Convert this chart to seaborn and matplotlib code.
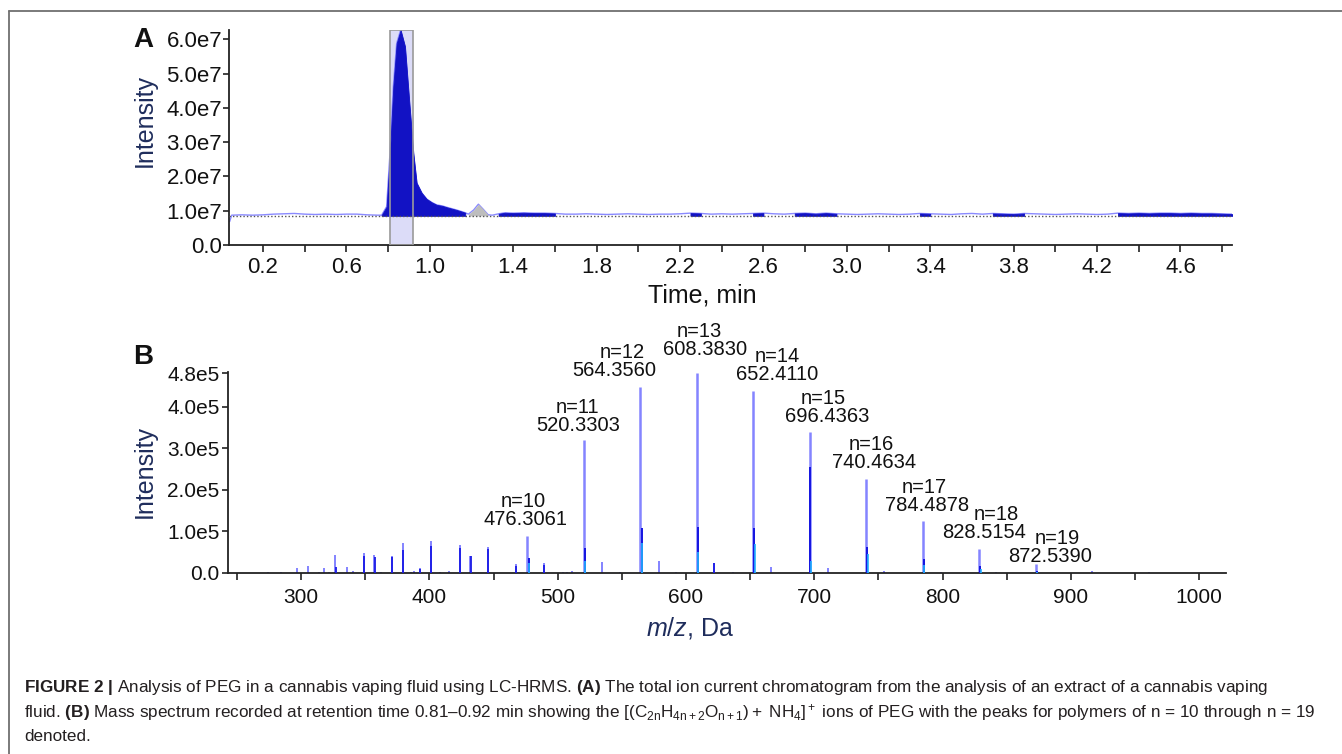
import numpy as np
import pandas as pd
import matplotlib
matplotlib.use("Agg")
import matplotlib.pyplot as plt
import seaborn as sns
from matplotlib import font_manager as fm
from matplotlib.lines import Line2D
from matplotlib.ticker import FixedLocator, MultipleLocator

# ---------------- panel A : total ion current chromatogram ----------------
time_min = [0.040, 0.050, 0.10, 0.15, 0.20, 0.25, 0.30, 0.35, 0.40, 0.45, 0.50,
            0.55, 0.60, 0.65, 0.70, 0.75, 0.769, 0.793, 0.809, 0.825, 0.841,
            0.860, 0.881, 0.902, 0.921, 0.937, 0.961, 0.985, 1.010, 1.033,
            1.060, 1.081, 1.105, 1.129, 1.150, 1.170, 1.185, 1.210, 1.233,
            1.255, 1.280, 1.300, 1.330, 1.360, 1.400, 1.450, 1.500, 1.550,
            1.600, 1.650,
            1.70, 1.75, 1.80, 1.85, 1.90, 1.95, 2.00, 2.05, 2.10, 2.15, 2.20,
            2.25, 2.30, 2.35, 2.40, 2.45, 2.50, 2.55, 2.60, 2.65, 2.70, 2.75,
            2.80, 2.85, 2.90, 2.95, 3.00, 3.05, 3.10, 3.15, 3.20, 3.25, 3.30,
            3.35, 3.40, 3.45, 3.50, 3.55, 3.60, 3.65, 3.70, 3.75, 3.80, 3.85,
            3.90, 3.95, 4.00, 4.05, 4.10, 4.15, 4.20, 4.25, 4.30, 4.35, 4.40,
            4.45, 4.50, 4.55, 4.60, 4.65, 4.70, 4.75, 4.80, 4.85]
# intensity in units of 1e7
tic_1e7 = [0.68, 0.87, 0.88, 0.87, 0.88, 0.90, 0.91, 0.92, 0.90, 0.89, 0.90,
           0.89, 0.90, 0.90, 0.88, 0.87, 0.87, 1.12, 2.68, 4.62, 5.88,
           6.27, 5.79, 4.14, 2.68, 1.81, 1.52, 1.34, 1.24, 1.17,
           1.14, 1.10, 1.06, 1.02, 0.98, 0.94, 0.90, 1.02, 1.19,
           1.05, 0.88, 0.87, 0.91, 0.94, 0.93, 0.94, 0.93, 0.93,
           0.92, 0.90,
           0.90, 0.91, 0.90, 0.89, 0.90, 0.91, 0.90, 0.89, 0.90, 0.90, 0.91,
           0.93, 0.92, 0.90, 0.91, 0.90, 0.91, 0.92, 0.93, 0.91, 0.90, 0.92,
           0.93, 0.91, 0.93, 0.91, 0.90, 0.89, 0.90, 0.91, 0.90, 0.89, 0.90,
           0.92, 0.91, 0.90, 0.89, 0.91, 0.92, 0.90, 0.92, 0.91, 0.90, 0.92,
           0.91, 0.90, 0.89, 0.90, 0.91, 0.90, 0.89, 0.90, 0.93, 0.92, 0.93,
           0.92, 0.93, 0.93, 0.92, 0.93, 0.92, 0.92, 0.91, 0.90]
baseline_1e7 = 0.85
rt_window = (0.81, 0.92)
dark_fill = [(0.76, 1.175), (1.33, 1.62), (2.24, 2.31), (2.54, 2.61),
             (2.74, 2.95), (3.34, 3.41), (3.69, 3.86), (4.28, 4.85)]
grey_fill = [(1.175, 1.29)]
a_xticks = [0.2, 0.6, 1.0, 1.4, 1.8, 2.2, 2.6, 3.0, 3.4, 3.8, 4.2, 4.6]
a_yticks = [0, 1e7, 2e7, 3e7, 4e7, 5e7, 6e7]
a_ylabels = ["0.0", "1.0e7", "2.0e7", "3.0e7", "4.0e7", "5.0e7", "6.0e7"]

# ---------------- panel B : mass spectrum ----------------
peg_n = [10, 11, 12, 13, 14, 15, 16, 17, 18, 19]
peg_mz = [476.3061, 520.3303, 564.3560, 608.3830, 652.4110,
          696.4363, 740.4634, 784.4878, 828.5154, 872.5390]
peg_int = [0.88e5, 3.19e5, 4.46e5, 4.80e5, 4.37e5,
           3.40e5, 2.26e5, 1.24e5, 0.58e5, 0.21e5]
iso_mz = [477.31, 521.33, 565.36, 609.39, 653.41, 696.80, 741.47, 785.49, 829.52, 873.54]
iso_int = [0.35e5, 0.60e5, 1.08e5, 1.10e5, 1.08e5, 2.55e5, 0.62e5, 0.34e5, 0.18e5, 0.05e5]
cyan_mz = [477.6, 521.6, 565.6, 609.6, 653.6, 697.6, 741.7, 785.7, 829.7, 873.7]
cyan_int = [0.25e5, 0.30e5, 0.72e5, 0.50e5, 0.70e5, 0.30e5, 0.45e5, 0.20e5, 0.10e5, 0.03e5]
minor_mz = [274.2, 284.0, 296.6, 305.2, 313.8, 318.2, 322.0, 326.7, 335.6, 340.3,
            349.1, 357.1, 362.0, 370.9, 379.5, 386.0, 388.3, 392.5, 401.0, 408.0,
            415.4, 423.7, 432.0, 437.0, 445.7, 455.0, 460.0, 467.6, 489.4, 504.0,
            507.0, 511.5, 534.3, 548.3, 556.0, 578.8, 592.4, 622.0, 636.4, 666.3,
            680.4, 710.6, 724.0, 754.4, 798.8, 842.0, 916.6, 960.6]
minor_int = [0.02e5, 0.015e5, 0.13e5, 0.17e5, 0.03e5, 0.13e5, 0.02e5, 0.43e5, 0.14e5, 0.06e5,
             0.47e5, 0.43e5, 0.02e5, 0.42e5, 0.71e5, 0.03e5, 0.06e5, 0.13e5, 0.78e5, 0.02e5,
             0.04e5, 0.67e5, 0.41e5, 0.01e5, 0.62e5, 0.01e5, 0.01e5, 0.22e5, 0.23e5, 0.02e5,
             0.02e5, 0.06e5, 0.26e5, 0.03e5, 0.01e5, 0.29e5, 0.02e5, 0.25e5, 0.02e5, 0.15e5,
             0.01e5, 0.11e5, 0.01e5, 0.05e5, 0.03e5, 0.02e5, 0.06e5, 0.03e5]
minor_dark_mz = [326.9, 349.3, 357.3, 371.1, 379.8, 392.7, 401.3, 423.9, 432.3, 446.0, 467.8, 489.7, 622.2]
minor_dark_int = [0.15e5, 0.40e5, 0.38e5, 0.38e5, 0.55e5, 0.10e5, 0.65e5, 0.60e5, 0.41e5, 0.58e5, 0.18e5, 0.20e5, 0.25e5]
b_xticks = [300, 400, 500, 600, 700, 800, 900, 1000]
b_yticks = [0, 1e5, 2e5, 3e5, 4e5, 4.8e5]
b_ylabels = ["0.0", "1.0e5", "2.0e5", "3.0e5", "4.0e5", "4.8e5"]
# label nudges (pixels) so the tags sit as in the original figure
num_dx = [-2, -6, -26, 8, 24, 18, 8, 4, 5, 15]
num_dy = [16.5, 15, 17, 24, 17, 15, 16, 16, 16.5, 8]
n_dx = [-4, -6, -18, 3, 24, 14, 5, 2, 17, 22]
line_gap = 18

caption = [
    r"$\mathbf{FIGURE\ 2\ |}$ Analysis of PEG in a cannabis vaping fluid using LC-HRMS. "
    r"$\mathbf{(A)}$ The total ion current chromatogram from the analysis of an extract of a cannabis vaping",
    r"fluid. $\mathbf{(B)}$ Mass spectrum recorded at retention time 0.81–0.92 min showing the "
    r"$\mathregular{[(C_{2n}H_{4n+2}O_{n+1})+\ NH_4]^+}$ ions of PEG with the peaks for polymers of n = 10 through n = 19",
    "denoted.",
]

# ---------------- style ----------------
sns.set_theme(style="ticks")
installed = {f.name for f in fm.fontManager.ttflist}
main_font = "Liberation Sans" if "Liberation Sans" in installed else "DejaVu Sans"
cap_font = "Liberation Sans Narrow" if "Liberation Sans Narrow" in installed else main_font
plt.rcParams["font.family"] = [main_font, "DejaVu Sans"]
plt.rcParams["mathtext.fontset"] = "custom"
plt.rcParams["mathtext.rm"] = cap_font
plt.rcParams["mathtext.bf"] = cap_font + ":bold"
plt.rcParams["mathtext.it"] = main_font + ":italic"
plt.rcParams["axes.edgecolor"] = "#222222"
plt.rcParams["axes.linewidth"] = 1.3

W, H = 1342, 754
fig = plt.figure(figsize=(W / 100, H / 100), dpi=100)
fig.patch.set_facecolor("white")
axA = fig.add_axes([229 / W, 1 - 245 / H, (1232 - 229) / W, (245 - 30) / H])
axB = fig.add_axes([228 / W, 1 - 573 / H, (1226 - 228) / W, (573 - 372) / H])

label_col = "#1f2d5c"

# ---- A
t = np.array(time_min)
sig = np.array(tic_1e7) * 1e7
base = baseline_1e7 * 1e7
dfA = pd.DataFrame({"time": t, "intensity": sig})

axA.axvspan(*rt_window, facecolor="#dcdcf8", edgecolor="none", zorder=0)
sns.lineplot(data=dfA, x="time", y="intensity", ax=axA, color="#8a8aff",
             lw=1.0, zorder=2)
for a, b in dark_fill:
    m = (t >= a) & (t <= b)
    axA.fill_between(t[m], base, sig[m], color="#1212c4", lw=0.6,
                     edgecolor="#1212c4", zorder=3)
for a, b in grey_fill:
    m = (t >= a) & (t <= b)
    axA.fill_between(t[m], base, sig[m], color="#bdbdbd", lw=0, zorder=3)
axA.axhline(base, color="#555555", ls=(0, (1, 1.5)), lw=1.0, zorder=4)
axA.axvspan(*rt_window, facecolor="none", edgecolor="#9a9a9a", lw=1.2, zorder=5)

axA.set_xlim(0.037, 4.847)
axA.set_ylim(0, 6.27e7)
axA.xaxis.set_major_locator(FixedLocator(a_xticks))
axA.xaxis.set_minor_locator(MultipleLocator(0.2))
axA.set_yticks(a_yticks)
axA.set_yticklabels(a_ylabels)
axA.tick_params(axis="x", which="both", length=5, width=1.2, color="#222222",
                labelsize=16, pad=4, labelcolor="#111111")
axA.tick_params(axis="y", length=4, width=1.2, color="#222222",
                labelsize=16, pad=1, labelcolor="#111111")
axA.set_xlabel("Time, min", fontsize=18, color="#111111")
axA.xaxis.label.set_va("center")
axA.xaxis.set_label_coords(0.4716, -0.2326)
axA.set_ylabel("Intensity", fontsize=18, color=label_col)
axA.yaxis.label.set_va("center")
axA.yaxis.set_label_coords(-0.0837, 0.58)
sns.despine(ax=axA)

# ---- B
axB.vlines(minor_mz, 0, minor_int, color="#7a7aff", lw=1.3, zorder=2)
axB.vlines(minor_dark_mz, 0, minor_dark_int, color="#1a1ae6", lw=1.3, zorder=3)
axB.vlines(peg_mz, 0, peg_int, color="#8484ff", lw=1.8, zorder=2)
axB.vlines(iso_mz, 0, iso_int, color="#1414e0", lw=1.4, zorder=3)
axB.vlines(cyan_mz, 0, cyan_int, color="#22b2ff", lw=1.2, zorder=4)

for n, mz, h, ndx, mdx, mdy in zip(peg_n, peg_mz, peg_int, n_dx, num_dx, num_dy):
    axB.annotate(f"{mz:.4f}", xy=(mz, h), xytext=(mdx, mdy),
                 textcoords="offset pixels", ha="center", va="center",
                 fontsize=14.5, color="#111111", annotation_clip=False)
    axB.annotate(f"n={n}", xy=(mz, h), xytext=(ndx, mdy + line_gap),
                 textcoords="offset pixels", ha="center", va="center",
                 fontsize=14.5, color="#111111", annotation_clip=False)

axB.set_xlim(243, 1021)
axB.set_ylim(0, 4.83e5)
axB.xaxis.set_major_locator(FixedLocator(b_xticks))
axB.xaxis.set_minor_locator(MultipleLocator(50))
axB.set_yticks(b_yticks)
axB.set_yticklabels(b_ylabels)
axB.tick_params(axis="x", which="both", length=5, width=1.2, color="#222222",
                labelsize=15, pad=6, labelcolor="#111111")
axB.tick_params(axis="y", length=4, width=1.2, color="#222222",
                labelsize=15, pad=2, labelcolor="#111111")
axB.set_xlabel(r"$\mathit{m/z}$, Da", fontsize=18, color=label_col)
axB.xaxis.label.set_va("center")
axB.xaxis.set_label_coords(0.463, -0.2736)
axB.set_ylabel("Intensity", fontsize=18, color=label_col)
axB.yaxis.label.set_va("center")
axB.yaxis.set_label_coords(-0.0832, 0.504)
sns.despine(ax=axB)

# panel letters
fig.text(143 / W, 1 - 40 / H, "A", fontsize=20, fontweight="bold",
         ha="center", va="center", color="#111111")
fig.text(143 / W, 1 - 357 / H, "B", fontsize=20, fontweight="bold",
         ha="center", va="center", color="#111111")

# frame of the figure box
fig.add_artist(Line2D([9 / W, 1], [1 - 11 / H, 1 - 11 / H], transform=fig.transFigure,
                      color="#707070", lw=1.3))
fig.add_artist(Line2D([9 / W, 9 / W], [0, 1 - 11 / H], transform=fig.transFigure,
                      color="#707070", lw=1.3))

# caption, sized to the original line width
cap_y = [692, 717, 741]
caps = [fig.text(24 / W, 1 - y / H, s, fontsize=12, family=cap_font,
                 color="#231f20", va="baseline", ha="left")
        for s, y in zip(caption, cap_y)]
r = fig.canvas.get_renderer()
w0 = caps[0].get_window_extent(r).width
for c in caps:
    c.set_fontsize(12 * 1244 / w0)

fig.savefig("out.png", dpi=100)
